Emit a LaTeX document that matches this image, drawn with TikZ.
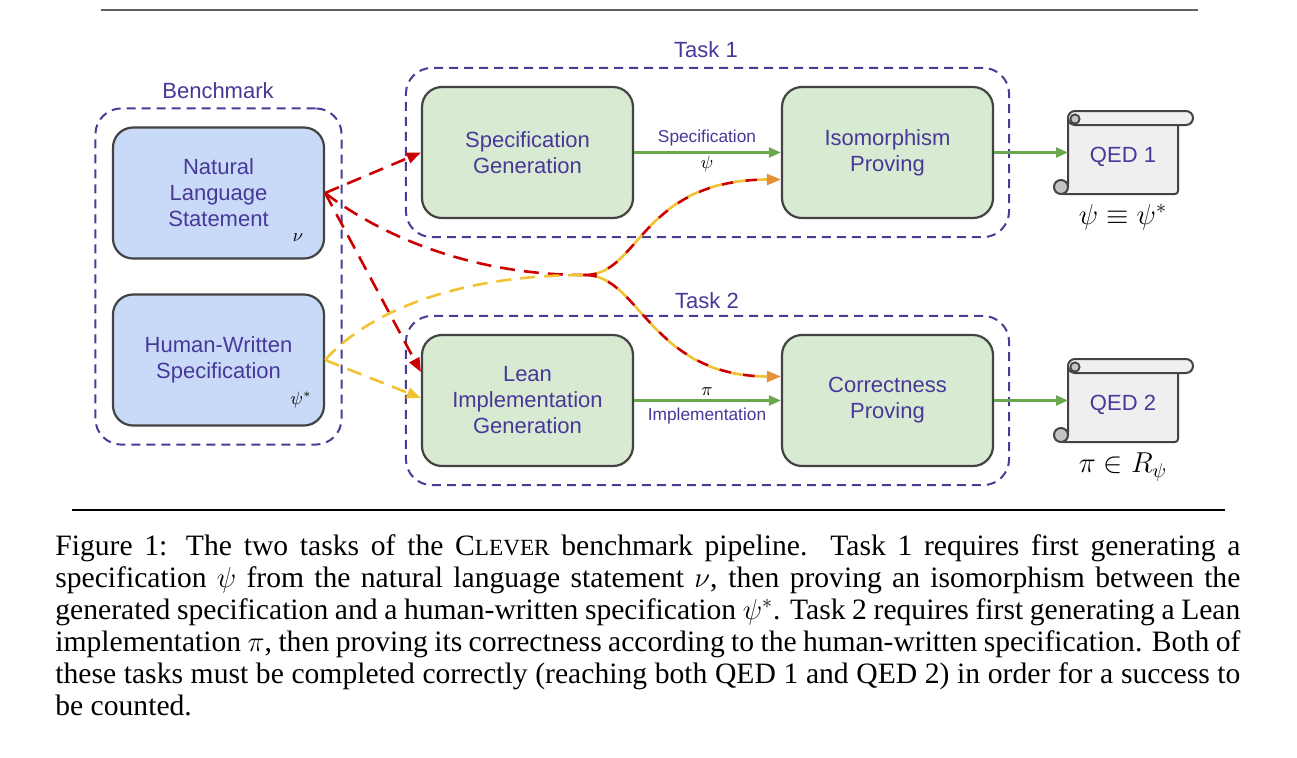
\documentclass[tikz,border=0pt]{standalone}
\usepackage{fontspec}
\setmainfont{Liberation Serif}
\setsansfont{Liberation Sans}
\usetikzlibrary{arrows.meta,fit,calc}
\definecolor{txt}{RGB}{72,56,152}
\definecolor{framec}{RGB}{72,60,150}
\definecolor{gfill}{HTML}{D9EAD3}
\definecolor{bfill}{HTML}{C9DAF8}
\definecolor{bord}{HTML}{434343}
\definecolor{garr}{HTML}{6AA84F}
\definecolor{redc}{HTML}{CC0000}
\definecolor{yelc}{HTML}{F1C232}
\definecolor{orac}{HTML}{E69138}
\definecolor{sfill}{HTML}{EFEFEF}
\definecolor{cfill}{HTML}{C4C4C4}
\newcommand\qedscroll[2]{%
  \begin{scope}[shift={(#1,#2)}]
    \filldraw[draw=bord, line width=1pt, fill=sfill, rounded corners=1.5pt]
      (-7,83) -- (110,83) -- (110,7) -- (0,7) -- (0,76) -- cycle;
    \filldraw[draw=bord, line width=1pt, fill=cfill] (-7,76) circle (3.5pt);
    \filldraw[draw=bord, line width=1pt, fill=sfill, rounded corners=3.5pt]
      (0,0) rectangle (125,14);
    \filldraw[draw=bord, line width=0.9pt, fill=cfill] (7,8) circle (2.3pt);
  \end{scope}}
\begin{document}
\begin{tikzpicture}[x=0.5pt,y=-0.5pt,
  box/.style={draw=bord, line width=1.1pt, rounded corners=10pt,
    minimum width=105.5pt, minimum height=65.5pt, align=center, text=txt,
    font=\sffamily\fontsize{11}{13}\selectfont, inner sep=0pt},
  procbox/.style={box, fill=gfill},
  inbox/.style={box, fill=bfill},
  framebox/.style={draw=framec, line width=1pt, dash pattern=on 4.5pt off 3pt,
    rounded corners=13pt},
  lbl/.style={text=txt, font=\sffamily\fontsize{11}{13}\selectfont, inner sep=0pt},
  smalllbl/.style={text=txt, font=\sffamily\fontsize{8.65}{10}\selectfont, inner sep=0pt},
  mathlbl/.style={inner sep=0pt, font=\fontsize{14.5}{16}\selectfont},
  tinymath/.style={inner sep=0pt, font=\fontsize{9}{11}\selectfont},
  garrow/.style={draw=garr, line width=1.2pt, -{Triangle[length=6pt,width=5pt]}},
  redline/.style={draw=redc, line width=1.3pt, dash pattern=on 7.5pt off 4.5pt},
  yelline/.style={draw=yelc, line width=1.3pt, dash pattern=on 7.5pt off 4.5pt},
  redtip/.style={-{Triangle[length=7pt,width=5.5pt,color=redc]}},
  yeltip/.style={-{Triangle[length=7pt,width=5.5pt,color=yelc]}},
  oratip/.style={-{Triangle[length=7pt,width=5.5pt,color=orac]}},
  captext/.style={anchor=base west, inner sep=0pt},
]
\useasboundingbox (0,0) rectangle (1297,757);
\fill[white] (0,0) rectangle (1297,757);

% rules
\draw[line width=1pt, draw=black!62] (101,10) -- (1198,10);
\draw[line width=0.55pt, draw=black] (72,510) -- (1225,510);

% input boxes
\node[inbox] (nl) at (218.5,193) {Natural\\Language\\Statement};
\node[inbox] (hw) at (218.5,360) {Human-Written\\Specification};
\node[tinymath] (nu) at (298,238) {$\nu$};
\node[tinymath] (psis) at (301,400) {$\psi^*$};

% process boxes
\node[procbox] (sg) at (527.5,152.5) {Specification\\Generation};
\node[procbox] (ip) at (887.5,152.5) {Isomorphism\\Proving};
\node[procbox] (lg) at (527.5,400.5) {Lean\\Implementation\\Generation};
\node[procbox] (cp) at (887.5,400.5) {Correctness\\Proving};

% frames
\node[framebox, fit=(nl)(hw), inner xsep=8.25pt, inner ysep=9pt] (bench) {};
\node[framebox, fit=(sg)(ip), inner xsep=7.5pt, inner ysep=9pt] (task1) {};
\node[framebox, fit=(lg)(cp), inner xsep=7.5pt, inner ysep=9pt] (task2) {};
\node[lbl] (benchlbl) at (218,91) {Benchmark};
\node[lbl] (t1lbl) at (706,50) {Task 1};
\node[lbl] (t2lbl) at (707,301) {Task 2};

% green arrows and labels
\draw[garrow] (sg.east) -- (ip.west);
\draw[garrow] (lg.east) -- (cp.west);
\node[smalllbl] (speclbl) at (707,138) {Specification};
\node[tinymath] (psilbl) at (707,164) {$\psi$};
\node[tinymath] (pilbl) at (707,392) {$\pi$};
\node[smalllbl] (impllbl) at (707,416) {Implementation};

% scrolls
\qedscroll{1068}{111}
\qedscroll{1068}{359}
\node[lbl] (q1) at (1123,157) {QED 1};
\node[lbl] (q2) at (1123,405) {QED 2};
\coordinate (q1in) at (1068,152.5);
\coordinate (q2in) at (1068,400.5);
\draw[garrow] (ip.east) -- (q1in);
\draw[garrow] (cp.east) -- (q2in);
\node[mathlbl] (res1) at (1123,217) {$\psi \equiv \psi^*$};
\node[mathlbl] (res2) at (1123,467) {$\pi \in R_\psi$};

% dashed connectors
\coordinate (m) at (585,275);
\coordinate (isoin) at ($(ip.west)+(0,27)$);
\coordinate (cpin) at ($(cp.west)+(0,-24)$);
\coordinate (lgr) at ($(lg.west)+(0,-28.5)$);
\coordinate (lgy) at ($(lg.west)+(0,-2.5)$);

\draw[redline, redtip] (nl.east) -- (sg.west);
\draw[redline, redtip] (nl.east) -- (lgr);
\draw[yelline, yeltip] (hw.east) -- (lgy);
\draw[redline] (nl.east) .. controls (380,235) and (470,275) .. (m);
\draw[yelline] (hw.east) .. controls (370,310) and (460,275) .. (m);

\draw[draw=redc, line width=1.3pt, dash pattern=on 6pt off 6pt, shorten >=6pt]
  (m) .. controls (640,275) and (640,179.5) .. (isoin);
\draw[draw=yelc, line width=1.3pt, dash pattern=on 6pt off 6pt, dash phase=6pt, oratip]
  (m) .. controls (640,275) and (640,179.5) .. (isoin);
\draw[draw=redc, line width=1.3pt, dash pattern=on 6pt off 6pt, shorten >=6pt]
  (m) .. controls (640,275) and (650,376.5) .. (cpin);
\draw[draw=yelc, line width=1.3pt, dash pattern=on 6pt off 6pt, dash phase=6pt, oratip]
  (m) .. controls (640,275) and (650,376.5) .. (cpin);

% caption
\node[captext] (caption) at (55,555) {\parbox[t]{592.5pt}{\fontsize{14.8}{16}\selectfont
\makebox[\linewidth][s]{Figure 1: The two tasks of the C{\fontsize{11.6}{12}\selectfont LEVER} benchmark pipeline. Task 1 requires first generating a}\\
\makebox[\linewidth][s]{specification $\psi$ from the natural language statement $\nu$, then proving an isomorphism between the}\\
\makebox[\linewidth][s]{generated specification and a human-written specification $\psi^*$. Task 2 requires first generating a Lean}\\
\makebox[\linewidth][s]{implementation $\pi$, then proving its correctness according to the human-written specification. Both of}\\
\makebox[\linewidth][s]{these tasks must be completed correctly (reaching both QED 1 and QED 2) in order for a success to}\\
be counted.}};
\end{tikzpicture}
\end{document}
